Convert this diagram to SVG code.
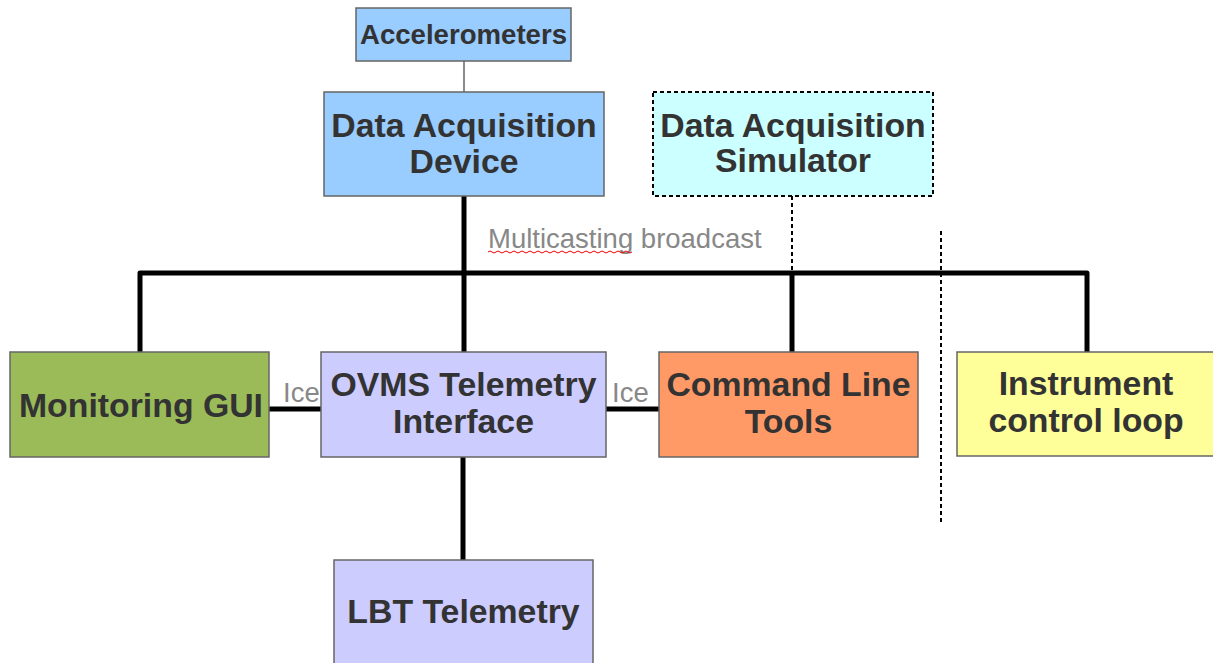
<svg xmlns="http://www.w3.org/2000/svg" width="1213" height="663" viewBox="0 0 1213 663">
<style>
.box{stroke:#666;stroke-width:1.5}
.t{font-family:"Liberation Sans",Arial,sans-serif;font-weight:bold;fill:#333;text-anchor:middle;font-size:33.8px}
.lbl{font-family:"Liberation Sans",Arial,sans-serif;fill:#888;font-size:27.5px}
.bus{fill:none;stroke:#000;stroke-width:5;stroke-linejoin:round}
.dot{fill:none;stroke:#000;stroke-width:2;stroke-dasharray:4 3}
</style>
<rect width="1213" height="663" fill="#fff"/>
<g id="connectors">
<line x1="464" y1="61" x2="464" y2="92" stroke="#666" stroke-width="1.5"/>
<path class="bus" d="M140 352 V273 H1087 V352"/>
<line class="bus" x1="464" y1="196" x2="464" y2="352"/>
<line class="bus" x1="792" y1="273" x2="792" y2="352"/>
<line class="dot" x1="792" y1="196" x2="792" y2="273"/>
<line class="dot" x1="941" y1="231" x2="941" y2="524"/>
<line class="bus" x1="269" y1="409" x2="321" y2="409"/>
<line class="bus" x1="606" y1="409" x2="659" y2="409"/>
<line class="bus" x1="463" y1="457" x2="463" y2="560"/>
<text class="lbl" x="488" y="248">Multicasting broadcast</text>
<path d="M488 252 q2 -2 4 0 t4 0 t4 0 t4 0 t4 0 t4 0 t4 0 t4 0 t4 0 t4 0 t4 0 t4 0 t4 0 t4 0 t4 0 t4 0 t4 0 t4 0 t4 0 t4 0 t4 0 t4 0 t4 0 t4 0 t4 0 t4 0 t4 0 t4 0 t4 0 t4 0 t4 0 t4 0 t4 0 t4 0 t4 0 t4 0" fill="none" stroke="#e00" stroke-width="1"/>
<text class="lbl" x="283" y="402">Ice</text>
<text class="lbl" x="612" y="402">Ice</text>
</g>
<g id="accelerometers">
<rect class="box" x="356" y="8" width="215" height="53" fill="#99ccff"/>
<text class="t" x="463.5" y="44" style="font-size:27.6px">Accelerometers</text>
</g>
<g id="daq-device">
<rect class="box" x="324" y="92" width="280" height="104" fill="#99ccff"/>
<text class="t" x="464" y="137">Data Acquisition</text>
<text class="t" x="464" y="173">Device</text>
</g>
<g id="daq-simulator">
<rect x="653" y="92" width="280" height="104" fill="#ccffff" stroke="#000" stroke-width="2" stroke-dasharray="4 3"/>
<text class="t" x="793" y="137">Data Acquisition</text>
<text class="t" x="793" y="172">Simulator</text>
</g>
<g id="monitoring-gui">
<rect class="box" x="10" y="352" width="259" height="105" fill="#9bbb59"/>
<text class="t" x="141" y="417">Monitoring GUI</text>
</g>
<g id="ovms">
<rect class="box" x="321" y="352" width="285" height="105" fill="#ccccff"/>
<text class="t" x="463.5" y="396">OVMS Telemetry</text>
<text class="t" x="463.5" y="433">Interface</text>
</g>
<g id="command-line-tools">
<rect class="box" x="659" y="352" width="259" height="105" fill="#ff9966"/>
<text class="t" x="788.5" y="396">Command Line</text>
<text class="t" x="788.5" y="433">Tools</text>
</g>
<g id="instrument-control-loop">
<rect class="box" x="957" y="352" width="260" height="104" fill="#ffff99"/>
<text class="t" x="1086" y="395">Instrument</text>
<text class="t" x="1086" y="432">control loop</text>
</g>
<g id="lbt-telemetry">
<rect class="box" x="334" y="560" width="259" height="110" fill="#ccccff"/>
<text class="t" x="463.5" y="623">LBT Telemetry</text>
</g>
</svg>
